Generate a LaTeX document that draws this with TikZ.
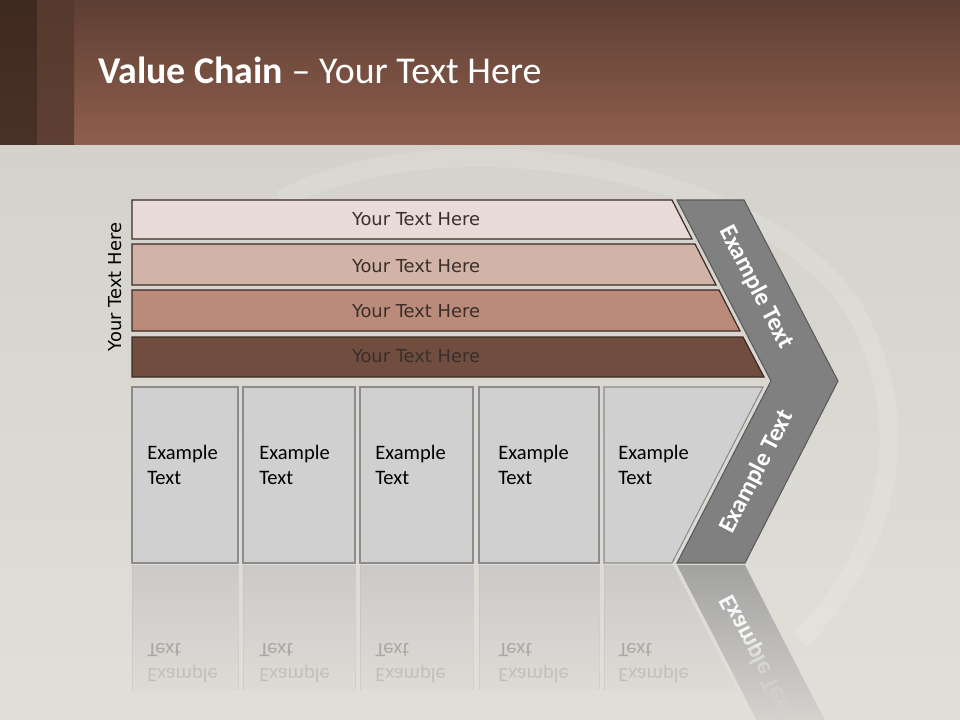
\documentclass[tikz,border=0pt]{standalone}
\usepackage{fontspec}
\setmainfont{Carlito}
\newfontfamily\tahoma{DejaVu Sans}
\definecolor{hdtop}{HTML}{5E3F33}
\definecolor{hdbot}{HTML}{8F5F4E}
\definecolor{sone}{HTML}{3E2920}
\definecolor{stwo}{HTML}{56392E}
\definecolor{bgtop}{HTML}{D4D2CB}
\definecolor{bgbot}{HTML}{E2DFDA}
\definecolor{bone}{HTML}{E9DCD8}
\definecolor{btwo}{HTML}{D2B3A7}
\definecolor{bthree}{HTML}{BA8B7A}
\definecolor{bfour}{HTML}{714D3F}
\definecolor{bline}{HTML}{3B2A24}
\definecolor{btext}{HTML}{3A2E2A}
\definecolor{boxfill}{HTML}{D0D0D0}
\definecolor{boxline}{HTML}{8C8C8C}
\definecolor{chev}{HTML}{808080}
\definecolor{chevline}{HTML}{5A5A5A}
\definecolor{reftop}{HTML}{CBCAC8}
\definecolor{refbot}{HTML}{DEDBD6}
\definecolor{reftxtA}{HTML}{C3C0BB}
\definecolor{reftxtB}{HTML}{ABA8A4}
\definecolor{refchevtop}{HTML}{A2A2A1}
\begin{document}
\begin{tikzpicture}[x=0.75pt,y=-0.75pt,
  barshape/.style={draw=bline,line width=0.9pt},
  bartext/.style={font=\tahoma\fontsize{13.4}{16}\selectfont,text=btext,inner sep=0},
  boxshape/.style={draw=boxline,fill=boxfill,line width=0.8pt},
  boxtext/.style={font=\fontsize{15.4}{19}\selectfont,align=left,anchor=west,inner sep=0,text=black},
  reftext/.style={font=\fontsize{15.4}{19}\selectfont,align=left,anchor=west,inner sep=0,yscale=-1},
  refbox/.style={top color=reftop,bottom color=refbot,draw=none},
  refchevshade/.style={top color=refchevtop,bottom color=refbot,draw=none},
  chevshape/.style={draw=chevline,fill=chev,line width=0.8pt},
  chevtext/.style={font=\bfseries\fontsize{18.5}{22}\selectfont,text=white,inner sep=0}]
\useasboundingbox (0,0) rectangle (960,720);
% background
\shade[top color=bgtop,bottom color=bgbot] (0,145) rectangle (960,720);
\draw[white,opacity=0.13,line width=14pt] (280,200) .. controls (450,110) and (780,170) .. (860,320) .. controls (920,440) and (880,560) .. (800,640);
% header
\shade[top color=hdtop,bottom color=hdbot] (0,0) rectangle (960,145);
\shade[top color=sone,bottom color=sone!85!hdbot] (0,0) rectangle (37,145);
\shade[top color=stwo,bottom color=stwo!85!hdbot] (37,0) rectangle (74,145);
\node[anchor=base west,inner sep=0,text=white,font=\fontsize{28.4}{32}\selectfont] (title) at (98,84) {\textbf{Value Chain} -- Your Text Here};
% side label
\node[bartext,text=black,rotate=90] (side) at (115,287) {Your Text Here};
% bars
\draw[barshape,fill=bone] (132,200) -- (672,200) -- (692,239) -- (132,239) -- cycle;
\draw[barshape,fill=btwo] (132,244) -- (695,244) -- (716,285) -- (132,285) -- cycle;
\draw[barshape,fill=bthree] (132,290) -- (719,290) -- (740,331) -- (132,331) -- cycle;
\draw[barshape,fill=bfour] (132,337) -- (743,337) -- (764,377) -- (132,377) -- cycle;
\node[bartext] (bar1) at (416,219) {Your Text Here};
\node[bartext] (bar2) at (416,266) {Your Text Here};
\node[bartext] (bar3) at (416,311) {Your Text Here};
\node[bartext] (bar4) at (416,356) {Your Text Here};
% chevron
\draw[chevshape] (677,200) -- (744,200) -- (838,381) -- (745,563) -- (677,563) -- (771,381) -- cycle;
\node[chevtext,rotate=-62.6] (chevup) at (756,287) {Example Text};
\node[chevtext,rotate=62.6] (chevdown) at (757,472) {Example Text};
% boxes
\draw[boxshape] (132,387) rectangle (238,563);
\draw[boxshape] (243,387) rectangle (355,563);
\draw[boxshape] (360,387) rectangle (473,563);
\draw[boxshape] (479,387) rectangle (599,563);
\draw[boxshape] (604,387) -- (763,387) -- (672,563) -- (604,563) -- cycle;
\node[boxtext] (box1) at (147,465) {Example\\Text};
\node[boxtext] (box2) at (259,465) {Example\\Text};
\node[boxtext] (box3) at (375,465) {Example\\Text};
\node[boxtext] (box4) at (498,465) {Example\\Text};
\node[boxtext] (box5) at (618,465) {Example\\Text};
% reflections
\shade[refbox] (132,565) rectangle (238,690);
\shade[refbox] (243,565) rectangle (355,690);
\shade[refbox] (360,565) rectangle (473,690);
\shade[refbox] (479,565) rectangle (599,690);
\shade[refbox] (604,565) -- (673,565) -- (737,690) -- (604,690) -- cycle;
\foreach \xx in {132,238,243,355,360,473,479,599,604}
  \draw[reftop!90!black,opacity=0.35,line width=0.7pt] (\xx,565) -- (\xx,690);
\shade[refchevshade] (677,565) -- (745,565) -- (838,747) -- (771,747) -- cycle;
\node[reftext] (ref1) at (147,663) {\textcolor{reftxtA}{Example}\\\textcolor{reftxtB}{Text}};
\node[reftext] (ref2) at (259,663) {\textcolor{reftxtA}{Example}\\\textcolor{reftxtB}{Text}};
\node[reftext] (ref3) at (375,663) {\textcolor{reftxtA}{Example}\\\textcolor{reftxtB}{Text}};
\node[reftext] (ref4) at (498,663) {\textcolor{reftxtA}{Example}\\\textcolor{reftxtB}{Text}};
\node[reftext] (ref5) at (618,663) {\textcolor{reftxtA}{Example}\\\textcolor{reftxtB}{Text}};
\node[chevtext,text=white!94!gray,rotate=-62.6,yscale=-1] (refchev) at (757,656) {Example Text};
% fade the reflected chevron text
\foreach \i in {0,...,11} {
  \begin{scope}
    \clip (0,{640+\i*7}) rectangle (960,720);
    \shade[refchevshade,opacity=0.2] (677,565) -- (745,565) -- (838,747) -- (771,747) -- cycle;
  \end{scope}
}
\end{tikzpicture}
\end{document}
